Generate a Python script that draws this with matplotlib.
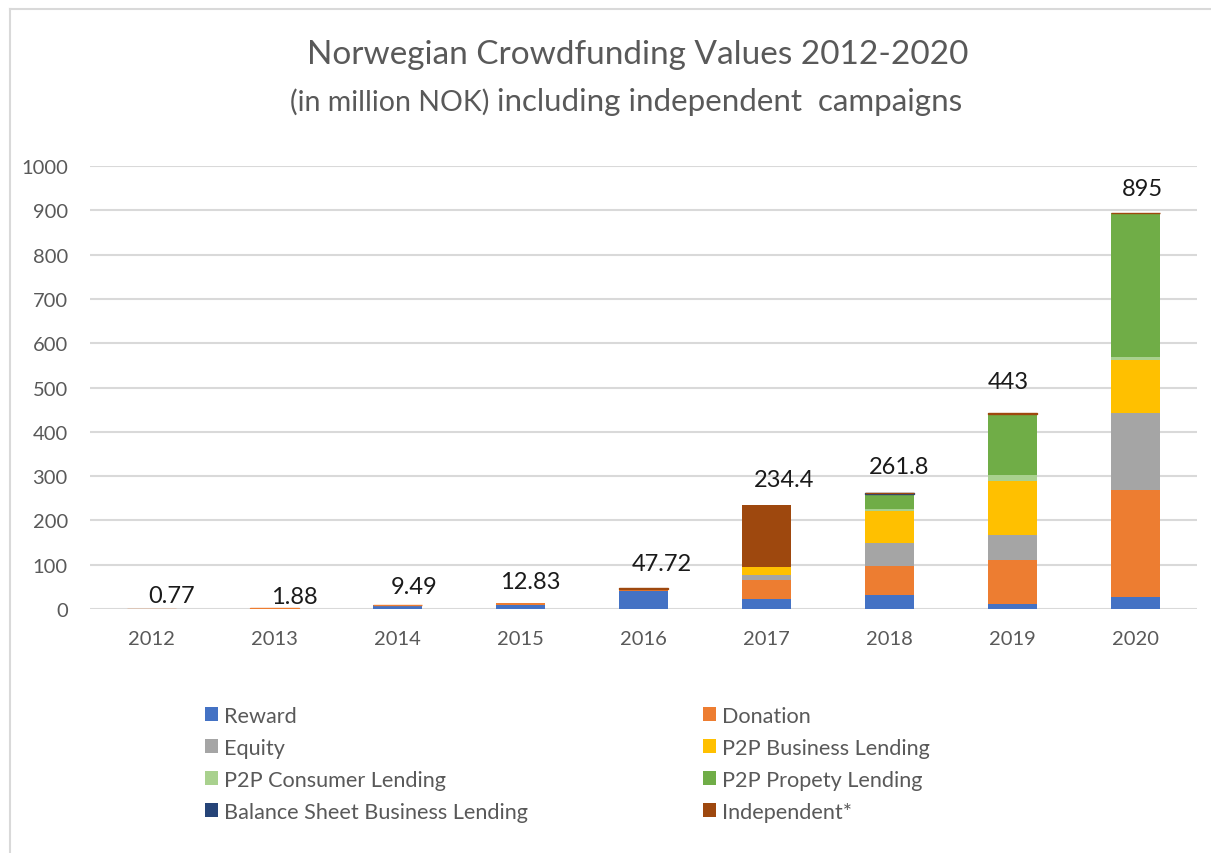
import matplotlib
matplotlib.use("Agg")
import matplotlib.pyplot as plt
import numpy as np
from matplotlib.patches import Patch
from matplotlib.lines import Line2D

plt.rcParams['font.family'] = ['Lato', 'DejaVu Sans']

years = ['2012', '2013', '2014', '2015', '2016', '2017', '2018', '2019', '2020']
series_names = ['Reward', 'Donation', 'Equity', 'P2P Business Lending',
                'P2P Consumer Lending', 'P2P Propety Lending',
                'Balance Sheet Business Lending', 'Independent*']
reward      = [0.0, 0.0, 8.5, 9.0, 40.0, 22.0, 32.0, 11.0, 28.0]
donation    = [0.77, 1.88, 0.99, 3.83, 5.5, 43.0, 64.0, 100.0, 241.0]
equity      = [0.0, 0.0, 0.0, 0.0, 0.0, 12.0, 53.0, 57.0, 174.0]
p2p_business = [0.0, 0.0, 0.0, 0.0, 0.0, 17.0, 72.0, 122.0, 119.0]
p2p_consumer = [0.0, 0.0, 0.0, 0.0, 0.0, 0.0, 5.0, 12.0, 6.0]
p2p_property = [0.0, 0.0, 0.0, 0.0, 0.0, 0.0, 33.0, 139.0, 326.0]
balance_sheet = [0.0, 0.0, 0.0, 0.0, 0.0, 0.0, 2.0, 0.0, 0.0]
independent = [0.0, 0.0, 0.0, 0.0, 2.22, 140.4, 0.8, 2.0, 1.0]
totals = [0.77, 1.88, 9.49, 12.83, 47.72, 234.4, 261.8, 443, 895]
total_labels = ['0.77', '1.88', '9.49', '12.83', '47.72', '234.4', '261.8', '443', '895']
yticks = [0, 100, 200, 300, 400, 500, 600, 700, 800, 900, 1000]

colors = ['#4472C4', '#ED7D31', '#A5A5A5', '#FFC000', '#A9D18E', '#70AD47', '#264478', '#9E480E']
series = [reward, donation, equity, p2p_business, p2p_consumer, p2p_property, balance_sheet, independent]

# label offsets (pixels) relative to bar centre / top
label_dx = [20, 20, 17, 10, 18, 18, 10, -4, 7]
label_dy = [13, 12, 18, 22, 24, 26, 27, 31, 24]

W, H = 1211, 854
fig = plt.figure(figsize=(W / 100, H / 100), dpi=100)
fig.patch.set_facecolor('white')

# chart border (left & top)
fig.add_artist(Line2D([10 / W, 10 / W], [0, 1 - 10 / H], color='#D9D9D9', lw=1.5, transform=fig.transFigure))
fig.add_artist(Line2D([10 / W, 1], [1 - 10 / H, 1 - 10 / H], color='#D9D9D9', lw=1.5, transform=fig.transFigure))

ax = fig.add_axes([90 / W, 1 - 610 / H, (1197 - 90) / W, (610 - 167) / H])
x = np.arange(len(years))
bottom = np.zeros(len(years))
for vals, c, name in zip(series, colors, series_names):
    v = np.array(vals)
    ax.bar(x, v, width=0.4, bottom=bottom, color=c, linewidth=0.0, label=name, zorder=3)
    # thin outline so that very small segments stay visible
    small = (v > 0) & (v < 3)
    if small.any():
        ax.bar(x[small], v[small], width=0.4, bottom=bottom[small], color=c,
               edgecolor=c, linewidth=1.0, zorder=3)
    bottom += v

ax.set_xlim(-0.5, len(years) - 0.5)
ax.set_ylim(0, 1000)
ax.set_yticks(yticks)
ax.set_yticklabels([str(t) for t in yticks])
ax.set_xticks(x)
ax.set_xticklabels(years)
ax.grid(axis='y', color='#D9D9D9', lw=1.5, zorder=0)
for s in ax.spines.values():
    s.set_visible(False)
ax.tick_params(axis='both', length=0, labelsize=14.5, labelcolor='#595959')
ax.tick_params(axis='y', pad=16)
ax.tick_params(axis='x', pad=15)

for i, (t, lab) in enumerate(zip(totals, total_labels)):
    ax.annotate(lab, xy=(x[i], t), xytext=(label_dx[i] * 0.72, label_dy[i] * 0.72),
                textcoords='offset points', ha='center', va='center',
                fontsize=17, color='#1a1a1a', zorder=5)

# title
fig.text(638 / W, 1 - 55 / H, 'Norwegian Crowdfunding Values 2012-2020',
         ha='center', va='center', fontsize=24, color='#595959')
fig.text(489 / W, 1 - 102 / H, '(in million NOK)', ha='right', va='center', fontsize=20.5, color='#595959')
fig.text(497 / W, 1 - 102 / H, 'including independent  campaigns', ha='left', va='center', fontsize=22.5, color='#595959')

handles = [Patch(facecolor=c, edgecolor='none') for c in colors]
col1 = [0, 2, 4, 6]
col2 = [1, 3, 5, 7]
for cols, xpx in ((col1, 205), (col2, 703)):
    leg = fig.legend([handles[i] for i in cols], [series_names[i] for i in cols],
                     loc='upper left', bbox_to_anchor=(xpx / W, 1 - 707 / H),
                     frameon=False, fontsize=15.6, handlelength=0.6, handleheight=0.6,
                     handletextpad=0.3, labelspacing=0.55, borderpad=0, borderaxespad=0)
    for txt in leg.get_texts():
        txt.set_color('#595959')

fig.savefig('out.png', dpi=100, facecolor='white')
